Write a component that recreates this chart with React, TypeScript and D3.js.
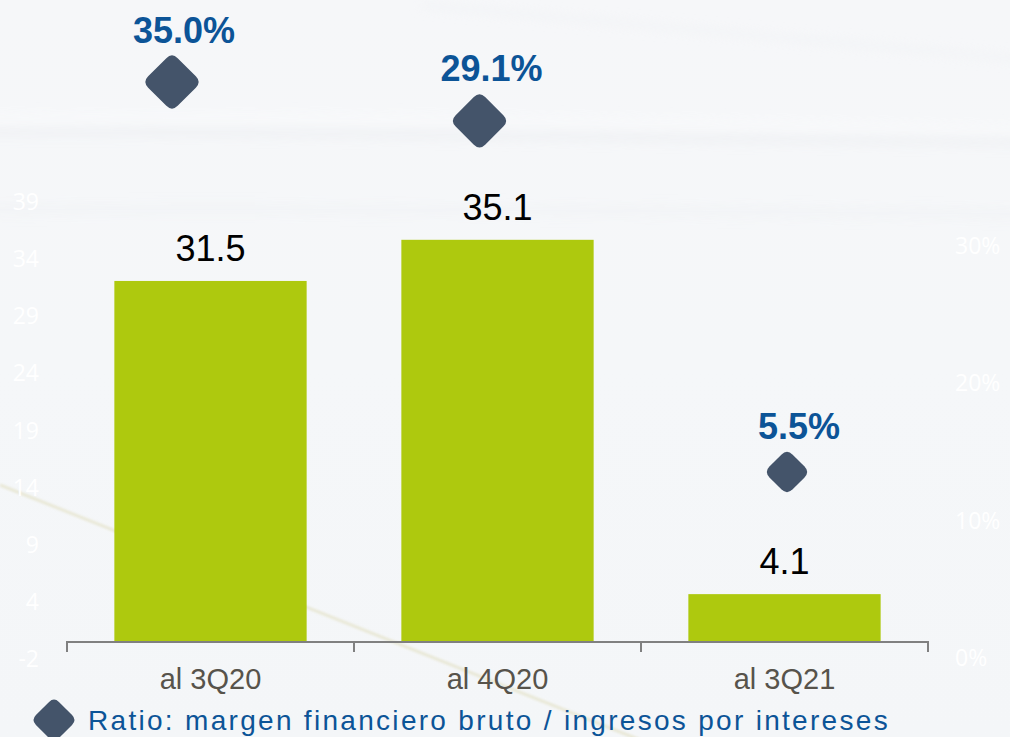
import React from "react";
import * as d3 from "d3";

// ---- data ----
const categories = ["al 3Q20", "al 4Q20", "al 3Q21"];
const marginValues = [31.5, 35.1, 4.1];
const ratioValues = [35.0, 29.1, 5.5];
const leftTickLabels = ["-2", "4", "9", "14", "19", "24", "29", "34", "39"];
const rightTickValues = [0, 10, 20, 30];
const legendLabel = "Ratio: margen financiero bruto / ingresos por intereses";

const W = 1010;
const H = 737;

const BAR_COLOR = "#aec90e";
const DIAMOND_COLOR = "#44546a";
const PCT_COLOR = "#0c5497";
const CAT_COLOR = "#57534b";
const MARKER_SIZES = [59, 59, 46];

function diamondPath(cx: number, cy: number, w: number, r: number) {
  // rounded diamond: square rotated by 45 degrees
  const h = w / 2;
  const pts: [number, number][] = [
    [cx, cy - h],
    [cx + h, cy],
    [cx, cy + h],
    [cx - h, cy],
  ];
  const p = d3.path();
  for (let i = 0; i < 4; i++) {
    const [x0, y0] = pts[i];
    const [xp, yp] = pts[(i + 3) % 4];
    const [xn, yn] = pts[(i + 1) % 4];
    const dxp = xp - x0, dyp = yp - y0;
    const lp = Math.hypot(dxp, dyp);
    const dxn = xn - x0, dyn = yn - y0;
    const ln = Math.hypot(dxn, dyn);
    const sx = x0 + (dxp / lp) * r, sy = y0 + (dyp / lp) * r;
    const ex = x0 + (dxn / ln) * r, ey = y0 + (dyn / ln) * r;
    if (i === 0) p.moveTo(sx, sy);
    else p.lineTo(sx, sy);
    p.quadraticCurveTo(x0, y0, ex, ey);
  }
  p.closePath();
  return p.toString();
}

export default function App() {
  const x = d3
    .scaleBand<string>()
    .domain(categories)
    .range([67, 928])
    .paddingInner(0.33)
    .paddingOuter(0.165);
  const y = d3.scaleLinear().domain([0, 39]).range([641, 641 - 39 * 11.43]);

  const xr = d3.scalePoint<string>().domain(categories).range([172, 787]);
  const yr = d3.scaleLog().domain([5.5, 35]).range([472, 82]);

  const yLeft = d3.scalePoint<string>().domain(leftTickLabels).range([658, 201]);
  const yRight = d3.scaleLinear().domain([0, 30]).range([657, 245]);

  const axisY = y(0);
  const step = x.step();
  const tickXs = d3.range(categories.length + 1).map((i) => 67 + i * step);

  return (
    <svg
      width={W}
      height={H}
      viewBox={`0 0 ${W} ${H}`}
      style={{ position: "absolute", left: 0, top: 0, display: "block" }}
    >
      <defs>
        <filter id="blur8" x="-10%" y="-200%" width="120%" height="500%">
          <feGaussianBlur stdDeviation="6" />
        </filter>
        <filter id="blur2" x="-10%" y="-50%" width="120%" height="200%">
          <feGaussianBlur stdDeviation="1.2" />
        </filter>
        <linearGradient id="bg" x1="0" y1="0" x2="0" y2="1">
          <stop offset="0" stopColor="#f6f7f9" />
          <stop offset="0.5" stopColor="#f5f7f9" />
          <stop offset="1" stopColor="#f4f6f8" />
        </linearGradient>
      </defs>

      {/* background */}
      <rect x={0} y={0} width={W} height={H} fill="url(#bg)" />
      <g filter="url(#blur8)" opacity={0.6}>
        <path d="M-20,132 C250,130 600,138 1030,142" stroke="#e6e8ec" strokeWidth={6} fill="none" />
        <path d="M-20,120 C250,116 600,122 1030,132" stroke="#fbfcfd" strokeWidth={8} fill="none" />
        <path d="M-20,210 C300,207 700,212 1030,214" stroke="#eef0f3" strokeWidth={8} fill="none" />
        <path d="M420,5 C600,22 800,40 1030,60" stroke="#eef0f3" strokeWidth={5} fill="none" />
      </g>
      <line
        x1={0}
        y1={485}
        x2={640}
        y2={740}
        stroke="#e4e2c8"
        strokeWidth={3}
        opacity={0.7}
        filter="url(#blur2)"
      />

      {/* left axis tick labels (white) */}
      <g fontFamily="'Open Sans', 'DejaVu Sans', sans-serif" fontSize={23} fill="#ffffff">
        {leftTickLabels.map((t) => (
          <text key={t} x={39} y={yLeft(t)!} textAnchor="end" dominantBaseline="central">
            {t}
          </text>
        ))}
      </g>

      {/* right axis tick labels (white) */}
      <g fontFamily="'Open Sans', 'DejaVu Sans', sans-serif" fontSize={23} fill="#ffffff">
        {rightTickValues.map((t) => (
          <text key={t} x={955} y={yRight(t)} textAnchor="start" dominantBaseline="central">
            {`${t}%`}
          </text>
        ))}
      </g>

      {/* bars */}
      {categories.map((c, i) => (
        <rect
          key={c}
          x={x(c)!}
          y={y(marginValues[i])}
          width={x.bandwidth()}
          height={axisY - y(marginValues[i])}
          fill={BAR_COLOR}
        />
      ))}

      {/* category axis */}
      <g stroke="#808080" strokeWidth={2} fill="none">
        <line x1={tickXs[0]} x2={tickXs[tickXs.length - 1]} y1={axisY + 1} y2={axisY + 1} />
        {tickXs.map((tx, i) => (
          <line key={i} x1={tx} x2={tx} y1={axisY} y2={axisY + 11} />
        ))}
      </g>

      {/* bar value labels */}
      <g fontFamily="'Liberation Sans', Arial, sans-serif" fontSize={36} fill="#000000">
        {categories.map((c, i) => (
          <text key={c} x={x(c)! + x.bandwidth() / 2} y={y(marginValues[i]) - 20} textAnchor="middle">
            {marginValues[i].toFixed(1)}
          </text>
        ))}
      </g>

      {/* category labels */}
      <g fontFamily="'Liberation Sans', Arial, sans-serif" fontSize={29} fill={CAT_COLOR}>
        {categories.map((c) => (
          <text key={c} x={x(c)! + x.bandwidth() / 2} y={689} textAnchor="middle">
            {c}
          </text>
        ))}
      </g>

      {/* ratio diamonds */}
      {categories.map((c, i) => (
        <path
          key={c}
          d={diamondPath(xr(c)!, yr(ratioValues[i]), MARKER_SIZES[i], 8)}
          fill={DIAMOND_COLOR}
        />
      ))}
      <g fontFamily="'Liberation Sans', Arial, sans-serif" fontSize={36} fontWeight="bold" fill={PCT_COLOR}>
        {categories.map((c, i) => (
          <text
            key={c}
            x={xr(c)! + 12}
            y={yr(ratioValues[i]) - MARKER_SIZES[i] / 2 - 10}
            textAnchor="middle"
          >
            {`${ratioValues[i].toFixed(1)}%`}
          </text>
        ))}
      </g>

      {/* legend */}
      <path d={diamondPath(54, 720, 46, 7)} fill={DIAMOND_COLOR} />
      <text
        x={88}
        y={730}
        fontFamily="'Liberation Sans', Arial, sans-serif"
        fontSize={28}
        letterSpacing={2.3}
        fill={PCT_COLOR}
      >
        {legendLabel}
      </text>
    </svg>
  );
}
